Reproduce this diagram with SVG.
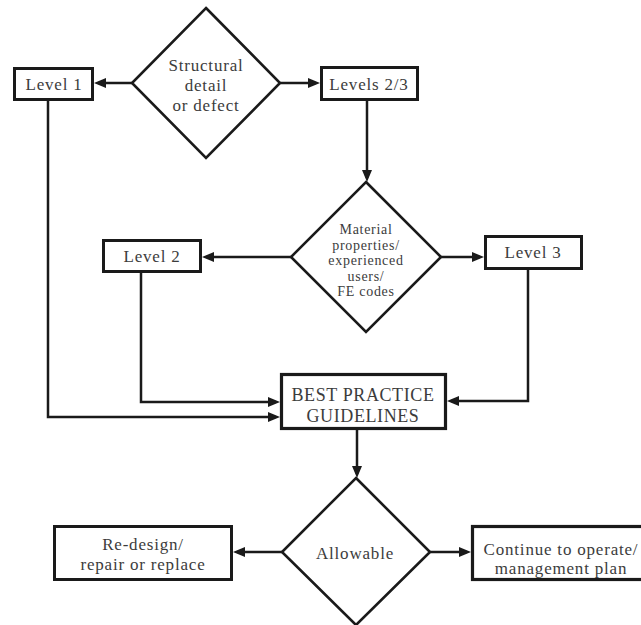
<svg xmlns="http://www.w3.org/2000/svg" width="641" height="625" viewBox="0 0 641 625">
<defs>
<style>
.box{fill:#fff;stroke:#1a1a1a;stroke-width:3}
.dia{fill:#fff;stroke:#1a1a1a;stroke-width:2.6;stroke-linejoin:miter}
.t{font-size:17px;letter-spacing:0.8px;fill:#3c3c3c;text-anchor:middle}
.s{font-size:14px;letter-spacing:0.7px}
.b{font-size:18px;letter-spacing:0.6px}
.c{fill:none;stroke:#1a1a1a;stroke-width:2.5;marker-end:url(#ah)}
</style>
<marker id="ah" viewBox="0 0 12 10" refX="8" refY="5" markerWidth="12" markerHeight="10" orient="auto" markerUnits="userSpaceOnUse">
<path d="M0,0 L12,5 L0,10 z" fill="#1a1a1a"/>
</marker>
</defs>
<rect width="641" height="625" fill="#fff"/>
<g id="connectors">
<path class="c" d="M132,83 H98"/>
<path class="c" d="M280,83 H316"/>
<path class="c" d="M367,101 V178"/>
<path class="c" d="M291,257 H206"/>
<path class="c" d="M441,257 H480"/>
<path class="c" d="M48,101 V417 H276"/>
<path class="c" d="M141,273 V402 H276"/>
<path class="c" d="M528,270 V401 H451"/>
<path class="c" d="M357,430 V474"/>
<path class="c" d="M282,552 H237"/>
<path class="c" d="M430,552 H467"/>
</g>
<g font-family="'Liberation Serif', 'Times New Roman', 'DejaVu Serif', serif">
<g id="structural">
<polygon class="dia" points="206,8 280,83 206,158 132,83"/>
<text class="t" x="206" y="71">Structural</text>
<text class="t" x="206" y="91">detail</text>
<text class="t" x="206" y="111">or defect</text>
</g>
<g id="level1">
<rect class="box" x="14.5" y="68.5" width="78" height="31"/>
<text class="t" x="54" y="90">Level 1</text>
</g>
<g id="levels23">
<rect class="box" x="321.5" y="67.5" width="96" height="32"/>
<text class="t" x="369" y="90">Levels 2/3</text>
</g>
<g id="material">
<polygon class="dia" points="366,182 441,257 366,332 291,257"/>
<text class="t s" x="366" y="234">Material</text>
<text class="t s" x="366" y="249.5">properties/</text>
<text class="t s" x="366" y="265">experienced</text>
<text class="t s" x="366" y="280.5">users/</text>
<text class="t s" x="366" y="296">FE codes</text>
</g>
<g id="level2">
<rect class="box" x="103.5" y="240.5" width="97" height="31"/>
<text class="t" x="152" y="262">Level 2</text>
</g>
<g id="level3">
<rect class="box" x="485.5" y="236.5" width="96" height="32"/>
<text class="t" x="533" y="258">Level 3</text>
</g>
<g id="bestpractice">
<rect class="box" x="281.5" y="374.5" width="164" height="54" style="stroke-width:3.2"/>
<text class="t b" x="363" y="401">BEST PRACTICE</text>
<text class="t b" x="363" y="422">GUIDELINES</text>
</g>
<g id="allowable">
<polygon class="dia" points="356,478 430,552 356,625 282,552"/>
<text class="t" x="355" y="559">Allowable</text>
</g>
<g id="redesign">
<rect class="box" x="54.5" y="526.5" width="177" height="53"/>
<text class="t" x="143" y="550">Re-design/</text>
<text class="t" x="143" y="570">repair or replace</text>
</g>
<g id="continue">
<rect class="box" x="472.5" y="526.5" width="200" height="53" style="stroke-width:3.2"/>
<text class="t" x="561" y="555">Continue to operate/</text>
<text class="t" x="561" y="574">management plan</text>
</g>
</g>
</svg>
